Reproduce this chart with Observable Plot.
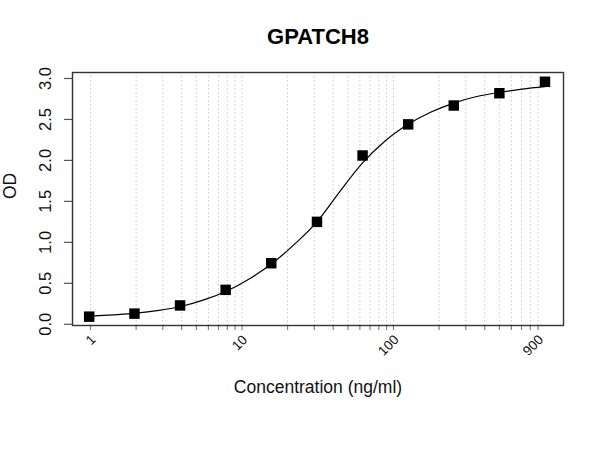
<!DOCTYPE html>
<html>
<head>
<meta charset="utf-8">
<script src="https://cdn.jsdelivr.net/npm/d3@7"></script>
<script src="https://cdn.jsdelivr.net/npm/@observablehq/plot@0.6"></script>
<style>
  html, body { margin: 0; padding: 0; background: #fff; }
  #chart svg { font-family: "Liberation Sans", Arial, sans-serif; }
</style>
</head>
<body>
<div id="chart"></div>
<script>
const title = "GPATCH8";
const xLabel = "Concentration (ng/ml)";
const yLabel = "OD";

// measured standards
const concentrations = [0.98, 1.95, 3.9, 7.8, 15.6, 31.25, 62.5, 125, 250, 500, 1000];
const od = [0.093, 0.13, 0.23, 0.42, 0.745, 1.25, 2.06, 2.44, 2.67, 2.82, 2.96];

// fitted curve
const curveConc = [1, 1.41, 2, 2.83, 4, 5.66, 8, 11.3, 16, 22.6, 31.25, 44.2, 62.5, 88.4, 125, 177, 250, 354, 500, 707, 1000];
const curveOD = [0.10, 0.115, 0.135, 0.17, 0.22, 0.30, 0.41, 0.56, 0.75, 0.99, 1.25, 1.62, 1.97, 2.24, 2.44, 2.59, 2.70, 2.78, 2.83, 2.87, 2.90];

// axes
const xTicks = [1, 2, 3, 4, 5, 6, 7, 8, 9, 10, 20, 30, 40, 50, 60, 70, 80, 90, 100, 200, 300, 400, 500, 600, 700, 800, 900];
const xTickLabels = [1, 10, 100, 900];
const yTicks = [0, 0.5, 1.0, 1.5, 2.0, 2.5, 3.0];
const yTickLabels = ["0.0", "0.5", "1.0", "1.5", "2.0", "2.5", "3.0"];

const points = concentrations.map((c, i) => ({c, od: od[i]}));
const curve = curveConc.map((c, i) => ({c, od: curveOD[i]}));
const yLab = yTicks.map((v, i) => ({v, t: yTickLabels[i]}));

const chart = Plot.plot({
  width: 600,
  height: 450,
  marginLeft: 72,
  marginRight: 37,
  marginTop: 72,
  marginBottom: 125,
  style: {background: "#fff", fontFamily: "'Liberation Sans', Arial, sans-serif"},
  x: {type: "log", domain: [0.7605, 1325]},
  y: {domain: [-0.015, 3.073]},
  marks: [
    Plot.ruleX(xTicks, {x: d => d, stroke: "#c8c8c8", strokeWidth: 1, strokeDasharray: "1.5,2.5"}),
    Plot.axisX(xTicks, {tickSize: 5, tickFormat: () => "", label: null, stroke: "#808080", strokeWidth: 1.2}),
    Plot.axisY(yTicks, {tickSize: 8, tickFormat: () => "", label: null, stroke: "#555", strokeWidth: 1.2}),
    Plot.text(xTickLabels, {x: d => d, text: d => String(d), frameAnchor: "bottom", dy: 12, dx: 3,
      rotate: -45, textAnchor: "end", lineAnchor: "middle", fontSize: 13.5, fill: "#111"}),
    Plot.text(yLab, {y: "v", text: "t", frameAnchor: "left", dx: -27, rotate: -90,
      textAnchor: "middle", lineAnchor: "middle", fontSize: 16.5, fill: "#111"}),
    Plot.frame({stroke: "#333", strokeWidth: 1.4}),
    Plot.line(curve, {x: "c", y: "od", curve: "monotone-x", stroke: "#000", strokeWidth: 1.2}),
    Plot.dot(points, {x: "c", y: "od", symbol: "square", r: 5.9, fill: "#000", stroke: "none"}),
    Plot.text([yLabel], {text: d => d, frameAnchor: "left", dx: -62, rotate: -90,
      lineAnchor: "middle", fontSize: 17.5, fill: "#111"}),
    Plot.text([xLabel], {text: d => d, frameAnchor: "bottom", dy: 62,
      lineAnchor: "middle", fontSize: 17.5, fill: "#111"}),
    Plot.text([title], {text: d => d, frameAnchor: "top", dy: -36,
      lineAnchor: "middle", fontSize: 22, fontWeight: "bold", fill: "#000"})
  ]
});
document.getElementById("chart").appendChild(chart);
</script>
</body>
</html>
